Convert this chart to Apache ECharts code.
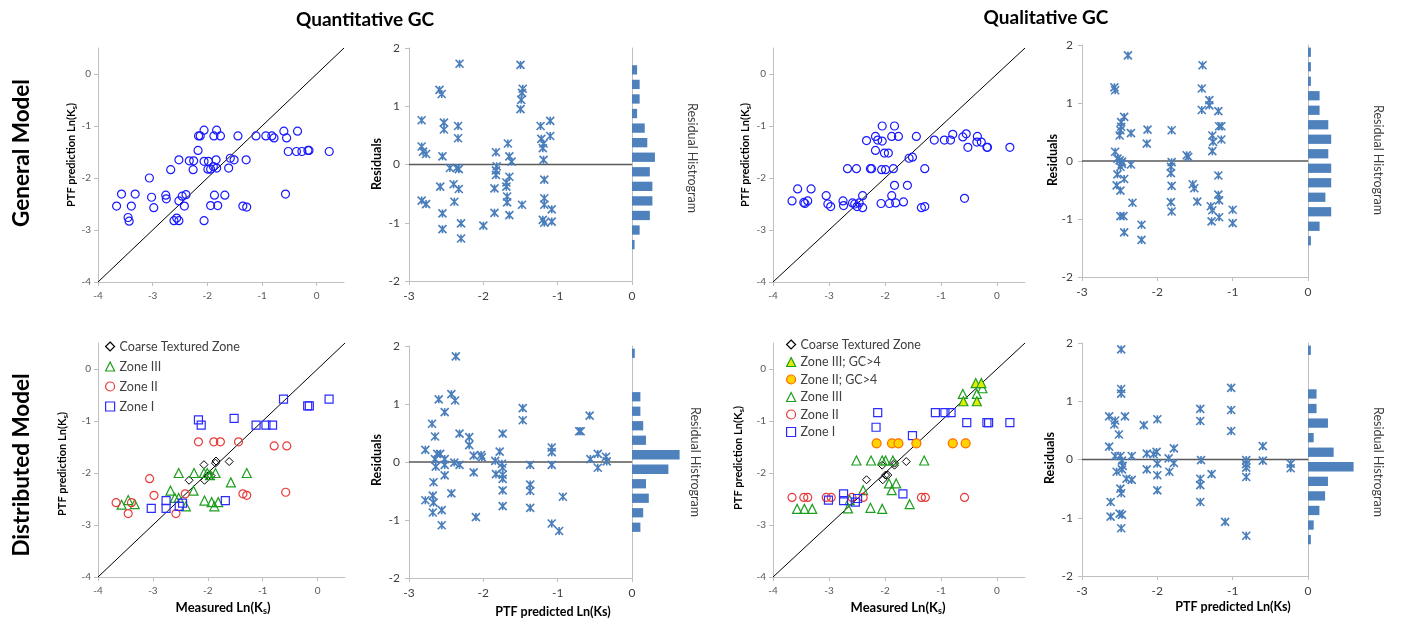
<!DOCTYPE html>
<html><head><meta charset="utf-8">
<script src="https://cdn.jsdelivr.net/npm/echarts@6/dist/echarts.min.js"></script>
<style>html,body{margin:0;padding:0;background:#fff}#c{width:1402px;height:624px}</style>
</head><body><div id="c"></div>
<script>
// ---------------- DATA ----------------
const scatterTicks = [-4, -3, -2, -1, 0];
const residXTicks = [-3, -2, -1, 0];
const residYTicks = [-2, -1, 0, 1, 2];
const histBins = ['-1.875','-1.625','-1.375','-1.125','-0.875','-0.625','-0.375','-0.125','0.125','0.375','0.625','0.875','1.125','1.375','1.625','1.875'];
const identityLine = [[-4, -4], [0.5, 0.5]];
const zeroLine = [[-3, 0], [0, 0]];

// General model – Quantitative GC : [measured, predicted]
const genQuantPred = [[-3.66,-2.54],[-3.57,-2.31],[-3.32,-2.31],[-3.39,-2.54],[-3.45,-2.76],[-3.43,-2.83],[-3.06,-2.00],[-3.02,-2.37],[-2.98,-2.57],[-2.76,-2.33],[-2.75,-2.40],[-2.67,-1.84],[-2.61,-2.82],[-2.56,-2.77],[-2.52,-2.82],[-2.52,-2.44],[-2.52,-1.65],[-2.46,-2.35],[-2.39,-2.32],[-2.42,-2.54],[-2.33,-1.67],[-2.25,-1.67],[-2.26,-1.84],[-2.17,-1.47],[-2.16,-1.19],[-2.13,-1.19],[-2.06,-1.08],[-2.06,-1.68],[-2.06,-2.82],[-1.98,-1.68],[-1.99,-1.83],[-1.94,-1.83],[-1.89,-1.78],[-1.88,-1.19],[-1.84,-1.65],[-1.83,-1.81],[-1.83,-1.08],[-1.76,-1.19],[-1.87,-2.33],[-1.94,-2.53],[-1.81,-2.53],[-1.68,-2.33],[-1.61,-1.81],[-1.58,-1.62],[-1.51,-1.65],[-1.44,-1.19],[-1.35,-2.54],[-1.28,-2.56],[-1.29,-1.65],[-1.11,-1.19],[-0.93,-1.19],[-0.82,-1.19],[-0.78,-1.23],[-0.60,-1.10],[-0.55,-1.23],[-0.52,-1.49],[-0.35,-1.10],[-0.37,-1.49],[-0.27,-1.49],[-0.16,-1.47],[-0.14,-1.47],[0.23,-1.49],[-0.57,-2.31]];
// General model – Quantitative GC : [predicted, residual]
const genQuantResid = [[-2.83,0.76],[-2.83,0.31],[-2.81,0.22],[-2.77,0.18],[-2.83,-0.62],[-2.77,-0.68],[-2.59,1.28],[-2.56,1.21],[-2.53,0.72],[-2.53,0.60],[-2.55,0.14],[-2.58,-0.38],[-2.55,-0.84],[-2.55,-1.11],[-2.45,-0.06],[-2.40,-0.34],[-2.39,-0.64],[-2.36,-0.06],[-2.33,-0.08],[-2.34,0.66],[-2.34,0.45],[-2.33,-0.42],[-2.32,1.73],[-2.30,-1.01],[-2.30,-1.27],[-2.00,-1.05],[-1.85,-0.41],[-1.85,-0.83],[-1.83,0.21],[-1.82,-0.03],[-1.83,-0.10],[-1.83,-0.18],[-1.69,-0.31],[-1.69,-0.38],[-1.67,0.36],[-1.65,0.14],[-1.65,-0.21],[-1.68,-0.55],[-1.68,-0.65],[-1.65,-0.87],[-1.62,0.05],[-1.50,1.71],[-1.47,1.30],[-1.48,1.23],[-1.49,1.11],[-1.50,0.95],[-1.48,-0.69],[-1.23,0.66],[-1.22,0.44],[-1.20,0.28],[-1.19,0.36],[-1.19,0.08],[-1.18,-0.26],[-1.18,-0.58],[-1.18,-0.69],[-1.20,-0.95],[-1.18,-1.00],[-1.10,0.75],[-1.10,0.49],[-1.08,-0.77],[-1.08,-0.98]];
const genQuantHist = [0,0,1,3,7,8,8,7,9,6,5,2,3,3,2,0];

// General model – Qualitative GC
const genQualPred = [[-3.66,-2.44],[-3.56,-2.21],[-3.45,-2.47],[-3.43,-2.49],[-3.38,-2.44],[-3.32,-2.21],[-3.05,-2.34],[-3.02,-2.50],[-2.97,-2.55],[-2.75,-2.44],[-2.74,-2.53],[-2.58,-2.48],[-2.54,-2.50],[-2.50,-2.55],[-2.46,-2.48],[-2.40,-2.34],[-2.40,-2.57],[-2.67,-1.82],[-2.51,-1.82],[-2.33,-1.28],[-2.26,-1.82],[-2.24,-1.82],[-2.17,-1.20],[-2.13,-1.27],[-2.17,-1.47],[-2.05,-1.00],[-2.05,-1.29],[-2.06,-1.84],[-1.99,-1.84],[-2.01,-1.52],[-1.94,-1.52],[-2.07,-2.49],[-1.88,-1.20],[-1.83,-1.00],[-1.76,-1.20],[-1.85,-1.82],[-1.83,-2.14],[-1.88,-2.34],[-1.92,-2.49],[-1.81,-2.48],[-1.67,-2.46],[-1.60,-2.14],[-1.57,-1.62],[-1.51,-1.60],[-1.44,-1.20],[-1.29,-1.82],[-1.35,-2.57],[-1.29,-2.55],[-1.12,-1.27],[-0.94,-1.27],[-0.83,-1.27],[-0.79,-1.16],[-0.61,-1.21],[-0.55,-1.15],[-0.52,-1.41],[-0.58,-2.39],[-0.35,-1.20],[-0.36,-1.31],[-0.28,-1.31],[-0.18,-1.41],[-0.17,-1.41],[0.23,-1.41]];
const genQualResid = [[-2.57,1.27],[-2.56,1.22],[-2.39,1.82],[-2.56,0.16],[-2.53,0.04],[-2.50,0.01],[-2.47,-0.01],[-2.47,-0.05],[-2.49,-0.10],[-2.53,-0.23],[-2.54,-0.42],[-2.49,-0.51],[-2.44,0.76],[-2.48,0.67],[-2.48,0.59],[-2.50,0.44],[-2.49,0.53],[-2.44,-0.31],[-2.49,-0.95],[-2.45,-0.95],[-2.44,-1.23],[-2.35,0.48],[-2.35,-0.06],[-2.33,-0.72],[-2.13,0.54],[-2.14,0.30],[-2.21,-1.10],[-2.21,-1.36],[-1.81,0.53],[-1.81,-0.02],[-1.82,-0.10],[-1.82,-0.21],[-1.81,-0.43],[-1.82,-0.71],[-1.81,-0.87],[-1.61,0.10],[-1.59,0.07],[-1.53,-0.40],[-1.51,-0.47],[-1.47,-0.70],[-1.40,1.65],[-1.41,1.25],[-1.41,0.88],[-1.31,1.05],[-1.31,0.96],[-1.27,0.44],[-1.26,0.33],[-1.27,0.17],[-1.29,-0.78],[-1.27,-0.85],[-1.28,-1.04],[-1.19,0.86],[-1.18,0.60],[-1.15,0.60],[-1.15,0.37],[-1.19,-0.25],[-1.19,-0.58],[-1.18,-0.68],[-1.18,-0.97],[-1.00,-0.84],[-1.00,-1.07]];
const genQualHist = [0,0,1,4,8,6,8,8,7,8,7,4,4,1,1,1];

// Distributed model – Quantitative GC
const distQuantCoarse = [[-2.34,-2.14],[-2.07,-1.84],[-2.06,-2.14],[-1.99,-2.05],[-1.94,-2.05],[-1.86,-1.81],[-1.85,-1.77],[-1.61,-1.78]];
const distQuantZone3 = [[-3.57,-2.61],[-3.45,-2.52],[-3.33,-2.60],[-2.68,-2.34],[-2.53,-2.00],[-2.60,-2.48],[-2.53,-2.48],[-2.26,-2.34],[-2.25,-2.00],[-2.40,-2.64],[-2.07,-2.00],[-2.01,-2.00],[-1.96,-2.04],[-1.86,-2.00],[-2.06,-2.53],[-1.93,-2.56],[-1.88,-2.64],[-1.81,-2.56],[-1.58,-2.18],[-1.29,-2.00]];
const distQuantZone2 = [[-3.67,-2.57],[-3.45,-2.78],[-3.39,-2.57],[-3.06,-2.11],[-2.98,-2.43],[-2.58,-2.78],[-2.41,-2.40],[-2.17,-1.40],[-1.89,-1.40],[-1.77,-1.40],[-1.44,-1.40],[-1.36,-2.40],[-1.29,-2.43],[-0.79,-1.48],[-0.56,-1.48],[-0.58,-2.37]];
const distQuantZone1 = [[-3.03,-2.68],[-2.76,-2.53],[-2.76,-2.68],[-2.52,-2.64],[-2.46,-2.58],[-2.17,-0.98],[-2.12,-1.08],[-1.68,-2.53],[-1.52,-0.95],[-1.12,-1.08],[-0.94,-1.08],[-0.82,-1.08],[-0.62,-0.58],[-0.18,-0.71],[-0.15,-0.71],[0.21,-0.58]];
const distQuantResid = [[-2.78,0.21],[-2.78,-0.66],[-2.69,0.66],[-2.65,0.44],[-2.67,-0.35],[-2.68,-0.58],[-2.67,-0.70],[-2.68,-0.87],[-2.65,0.05],[-2.64,-0.08],[-2.60,1.08],[-2.62,0.14],[-2.58,0.14],[-2.56,-0.83],[-2.56,-1.09],[-2.52,0.86],[-2.52,0.05],[-2.52,-0.05],[-2.52,-0.23],[-2.43,1.17],[-2.38,1.06],[-2.37,1.82],[-2.39,-0.01],[-2.43,-0.54],[-2.32,0.49],[-2.32,-0.05],[-2.19,0.43],[-2.19,0.29],[-2.13,0.11],[-2.13,-0.18],[-2.03,0.12],[-2.02,0.08],[-2.10,-0.95],[-1.84,0.02],[-1.83,-0.21],[-1.78,0.18],[-1.74,0.49],[-1.75,-0.03],[-1.74,-0.10],[-1.74,-0.22],[-1.74,-0.29],[-1.74,-0.49],[-1.74,-0.76],[-1.47,0.93],[-1.47,0.72],[-1.37,-0.05],[-1.37,-0.39],[-1.37,-0.50],[-1.37,-0.79],[-1.08,0.25],[-1.08,0.17],[-1.08,-0.05],[-1.08,-1.06],[-0.98,-1.19],[-0.93,-0.60],[-0.71,0.53],[-0.69,0.53],[-0.57,0.80],[-0.56,0.05],[-0.46,0.14],[-0.46,-0.10],[-0.35,0.09],[-0.34,0.01]];
const distQuantHist = [0,0,0,3,4,6,5,13,17,5,4,3,3,0,0,1];

// Distributed model – Qualitative GC
const distQualCoarse = [[-2.33,-2.13],[-2.05,-1.85],[-2.04,-2.13],[-1.99,-2.04],[-1.95,-2.04],[-1.83,-1.81],[-1.83,-1.85],[-1.62,-1.78]];
const distQualZone3GC = [[-0.60,-0.62],[-0.36,-0.62],[-0.38,-0.27],[-0.28,-0.27]];
const distQualZone2GC = [[-2.15,-1.43],[-1.875,-1.43],[-1.76,-1.43],[-1.44,-1.43],[-0.79,-1.43],[-0.56,-1.43]];
const distQualZone3 = [[-3.57,-2.69],[-3.44,-2.69],[-3.30,-2.69],[-2.66,-2.68],[-2.63,-2.52],[-2.39,-2.33],[-2.51,-1.76],[-2.25,-1.76],[-2.26,-2.67],[-2.05,-1.76],[-2.05,-2.69],[-1.99,-1.76],[-1.86,-1.76],[-1.93,-2.20],[-1.88,-2.33],[-1.80,-2.20],[-1.56,-2.60],[-1.30,-1.76],[-0.61,-0.48],[-0.36,-0.48],[-0.26,-0.37]];
const distQualZone2 = [[-3.66,-2.47],[-3.45,-2.47],[-3.38,-2.47],[-3.05,-2.47],[-2.96,-2.47],[-2.59,-2.47],[-2.39,-2.47],[-1.35,-2.47],[-1.28,-2.47],[-0.58,-2.47]];
const distQualZone1 = [[-3.01,-2.52],[-2.74,-2.40],[-2.74,-2.53],[-2.53,-2.56],[-2.49,-2.49],[-2.13,-0.84],[-2.16,-1.12],[-1.68,-2.40],[-1.51,-1.28],[-1.10,-0.84],[-0.93,-0.84],[-0.82,-0.84],[-0.54,-1.03],[-0.18,-1.03],[-0.15,-1.03],[0.23,-1.03]];
const distQualResid = [[-2.48,1.89],[-2.48,1.21],[-2.48,1.13],[-2.64,0.74],[-2.56,0.67],[-2.57,0.60],[-2.43,0.74],[-2.51,0.43],[-2.64,0.22],[-2.56,0.06],[-2.49,0.06],[-2.47,-0.02],[-2.46,-0.11],[-2.47,-0.17],[-2.54,-0.21],[-2.41,-0.33],[-2.34,-0.35],[-2.34,0.06],[-2.49,-0.50],[-2.48,-0.58],[-2.62,-0.73],[-2.62,-0.98],[-2.50,-0.93],[-2.47,-0.95],[-2.48,-1.18],[-2.18,0.59],[-2.14,0.10],[-2.14,-0.17],[-2.05,0.09],[-2.01,0.13],[-2.00,0.69],[-2.00,-0.07],[-2.00,-0.27],[-2.00,-0.53],[-1.85,0.02],[-1.84,-0.21],[-1.78,0.19],[-1.78,-0.06],[-1.43,0.87],[-1.43,0.66],[-1.42,-0.01],[-1.43,-0.33],[-1.43,-0.44],[-1.43,-0.73],[-1.28,-0.25],[-1.10,-1.07],[-1.02,1.23],[-1.02,0.85],[-1.02,0.49],[-0.82,-0.01],[-0.82,-0.08],[-0.82,-0.14],[-0.82,-0.30],[-0.82,-1.31],[-0.60,0.23],[-0.60,-0.02],[-0.23,-0.07],[-0.23,-0.15]];
const distQualHist = [0,0,1,2,4,6,7,16,9,2,7,3,3,0,0,1];

// ---------------- STYLE / LAYOUT ----------------
const FONT = 'Lato';
const AXIS_GRAY = '#bfbfbf';
const STAR = 'path://M0,0L10,10M10,0L0,10M5,0L5,10';
const grids = [
  {left:98,  top:48,  width:246, height:234},
  {left:409, top:48,  width:223, height:233},
  {left:632, top:48,  width:51,  height:233},
  {left:773, top:48,  width:252, height:234},
  {left:1082,top:45,  width:226, height:232},
  {left:1308,top:45,  width:58,  height:232},
  {left:98,  top:343, width:247, height:234},
  {left:409, top:346, width:223, height:232},
  {left:632, top:346, width:56,  height:232},
  {left:773, top:343, width:252, height:234},
  {left:1082,top:343, width:226, height:233},
  {left:1308,top:343, width:57,  height:233}
];
const xAxes = [], yAxes = [];
function axLine(){ return {show:true, onZero:false, lineStyle:{color:AXIS_GRAY, width:1}}; }
function addScatterAxes(g){
  xAxes.push({type:'value', gridIndex:g, min:-4, max:0.5, axisLine:axLine(), splitLine:{show:false},
    axisTick:{show:true, customValues:scatterTicks, length:4, lineStyle:{color:AXIS_GRAY}},
    axisLabel:{customValues:scatterTicks, fontSize:10, color:'#595959', fontFamily:FONT, margin:9}});
  yAxes.push({type:'value', gridIndex:g, min:-4, max:0.5, axisLine:axLine(), splitLine:{show:false},
    axisTick:{show:true, customValues:scatterTicks, length:4, lineStyle:{color:AXIS_GRAY}},
    axisLabel:{customValues:scatterTicks, fontSize:10, color:'#595959', fontFamily:FONT, margin:7}});
}
function addResidAxes(g){
  xAxes.push({type:'value', gridIndex:g, min:-3, max:0, interval:1, axisLine:axLine(), splitLine:{show:false},
    axisTick:{show:true, length:4, lineStyle:{color:AXIS_GRAY}},
    axisLabel:{fontSize:12, color:'#404040', fontFamily:FONT, margin:9}});
  yAxes.push({type:'value', gridIndex:g, min:-2, max:2, interval:1, axisLine:axLine(), splitLine:{show:false},
    axisTick:{show:true, length:4, lineStyle:{color:AXIS_GRAY}},
    axisLabel:{fontSize:12, color:'#404040', fontFamily:FONT, margin:9}});
}
function addHistAxes(g){
  xAxes.push({type:'value', gridIndex:g, min:0, max:20, show:false});
  yAxes.push({type:'category', gridIndex:g, data:histBins, boundaryGap:true, axisLine:axLine(),
    axisTick:{show:false}, axisLabel:{show:false}, splitLine:{show:false}});
}
for (let p=0;p<4;p++){ addScatterAxes(p*3); addResidAxes(p*3+1); addHistAxes(p*3+2); }

const series = [];
function idLine(g){ series.push({type:'line', xAxisIndex:g, yAxisIndex:g, data:identityLine, symbol:'none', silent:true,
  lineStyle:{color:'#000', width:1}, z:1}); }
function zLine(g){ series.push({type:'line', xAxisIndex:g, yAxisIndex:g, data:zeroLine, symbol:'none', silent:true,
  lineStyle:{color:'#595959', width:1.5}, z:1}); }
function pts(g, name, data, symbol, size, stroke, fill, bw){
  series.push({type:'scatter', name, xAxisIndex:g, yAxisIndex:g, data, symbol, symbolSize:size,
    itemStyle:{color:fill||'rgba(0,0,0,0)', borderColor:stroke, borderWidth:bw||1.2, opacity:1}, z:3});
}
function stars(g, data){ pts(g, 'Residuals'+g, data, STAR, 8, '#4a7ebb', null, 1.6); }
function hist(g, data){ series.push({type:'bar', xAxisIndex:g, yAxisIndex:g, data, barWidth:'64%',
  itemStyle:{color:'#4f81bd'}, silent:true}); }

const COARSE = ['diamond', 8, '#000000'];
const Z3 = ['triangle', 9, '#1e9e1e'];
const Z2 = ['circle', 8, '#e83a3a'];
const Z1 = ['rect', 8, '#2b2bff'];

// TL
idLine(0); pts(0,'gq',genQuantPred,'circle',8,'#1a1aff');
zLine(1); stars(1, genQuantResid); hist(2, genQuantHist);
// TR
idLine(3); pts(3,'gl',genQualPred,'circle',8,'#1a1aff');
zLine(4); stars(4, genQualResid); hist(5, genQualHist);
// BL
idLine(6);
pts(6,'Coarse Textured Zone',distQuantCoarse,...COARSE,null,1);
pts(6,'Zone III',distQuantZone3,...Z3);
pts(6,'Zone II',distQuantZone2,...Z2);
pts(6,'Zone I',distQuantZone1,...Z1);
zLine(7); stars(7, distQuantResid); hist(8, distQuantHist);
// BR
idLine(9);
pts(9,'Coarse Textured Zone',distQualCoarse,...COARSE,null,1);
pts(9,'Zone III',distQualZone3,...Z3);
pts(9,'Zone II',distQualZone2,...Z2);
pts(9,'Zone I',distQualZone1,...Z1);
pts(9,'Zone III; GC>4',distQualZone3GC,'triangle',9,'#1e9e1e','#e2ec00',1.2);
pts(9,'Zone II; GC>4',distQualZone2GC,'circle',9,'#ff6a00','#ffd400',1.2);
zLine(10); stars(10, distQualResid); hist(11, distQualHist);

const legendCommon = {orient:'vertical', itemWidth:9, itemHeight:9, selectedMode:false,
  itemStyle:{borderWidth:1.2}, textStyle:{fontSize:12.5, color:'#404040', fontFamily:FONT}};
const legends = [
  Object.assign({}, legendCommon, {left:100, top:335, itemGap:7, data:['Coarse Textured Zone','Zone III','Zone II','Zone I']}),
  Object.assign({}, legendCommon, {left:781, top:333, itemGap:4.5, data:['Coarse Textured Zone','Zone III; GC>4','Zone II; GC>4','Zone III','Zone II','Zone I']})
];

// ---------------- TEXT ----------------
const subRich = {s:{fontSize:8, fontWeight:'bold', fontFamily:FONT, fill:'#000', verticalAlign:'bottom', lineHeight:8}};
const subRichL = {s:{fontSize:9, fontWeight:'bold', fontFamily:FONT, fill:'#000', verticalAlign:'bottom', lineHeight:9}};
function txt(x, y, text, size, bold, rot, color, rich){
  return {type:'text', x, y, rotation:rot||0, silent:true, z:10,
    style:{text, fontSize:size, fontWeight:bold?'bold':'normal', fontFamily:FONT, fill:color||'#000',
      textAlign:'center', textVerticalAlign:'middle', lineHeight:size+3, rich:rich}};
}
const R90 = Math.PI/2;
const graphics = [
  txt(365, 20, 'Quantitative GC', 19, true),
  txt(1046, 18, 'Qualitative GC', 19, true),
  txt(22, 153, 'General Model', 22.5, true, R90),
  txt(22, 465, 'Distributed Model', 22.5, true, R90),
  txt(71, 155, 'PTF prediction Ln(K{s|s})', 11, true, R90, '#000', subRich),
  txt(745, 155, 'PTF prediction Ln(K{s|s})', 11, true, R90, '#000', subRich),
  txt(62, 464, 'PTF prediction Ln(K{s|s})', 11, true, R90, '#000', subRich),
  txt(738, 458, 'PTF prediction Ln(K{s|s})', 11, true, R90, '#000', subRich),
  txt(377, 164, 'Residuals', 12.5, true, R90),
  txt(1053, 160, 'Residuals', 12.5, true, R90),
  txt(377, 460, 'Residuals', 12.5, true, R90),
  txt(1050, 458, 'Residuals', 12.5, true, R90),
  txt(692, 158, 'Residual Histrogram', 12.5, false, -R90, '#404040'),
  txt(1378, 160, 'Residual Histrogram', 12.5, false, -R90, '#404040'),
  txt(695, 462, 'Residual Histrogram', 12.5, false, -R90, '#404040'),
  txt(1378, 462, 'Residual Histrogram', 12.5, false, -R90, '#404040'),
  txt(223, 608, 'Measured Ln(K{s|s})', 13, true, 0, '#000', subRichL),
  txt(898, 608, 'Measured Ln(K{s|s})', 13, true, 0, '#000', subRichL),
  txt(553, 612, 'PTF predicted Ln(Ks)', 12.5, true),
  txt(1233, 607, 'PTF predicted Ln(Ks)', 12.5, true)
];

const chart = echarts.init(document.getElementById('c'), null, {renderer:'canvas'});
chart.setOption({
  animation:false,
  backgroundColor:'#fff',
  grid: grids.map(g => Object.assign({containLabel:false}, g)),
  xAxis: xAxes, yAxis: yAxes,
  legend: legends,
  series,
  graphic: graphics
});
</script></body></html>
